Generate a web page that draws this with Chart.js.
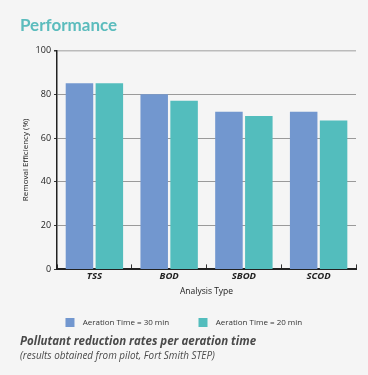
<!DOCTYPE html>
<html>
<head>
<meta charset="utf-8">
<script src="https://cdn.jsdelivr.net/npm/chart.js@4"></script>
<style>
  html,body{margin:0;padding:0;background:#f5f5f5;}
  #wrap{position:relative;width:368px;height:375px;overflow:hidden;}
  canvas{position:absolute;left:0;top:0;}
  .cap{position:absolute;left:20px;font-family:"Open Sans",sans-serif;color:#4a4a4a;white-space:nowrap;}
  #cap1{top:333px;font-size:11.5px;font-weight:700;font-style:italic;}
  #cap2{top:348px;font-size:9.9px;font-style:italic;}
</style>
</head>
<body>
<div id="wrap">
  <canvas id="c" width="368" height="375"></canvas>
  <div class="cap" id="cap1">Pollutant reduction rates per aeration time</div>
  <div class="cap" id="cap2">(results obtained from pilot, Fort Smith STEP)</div>
</div>
<script>
const categories = ["TSS", "BOD", "SBOD", "SCOD"];
const series30 = [85, 80, 72, 72];
const series20 = [85, 77, 70, 68];
const seriesNames = ["Aeration Time = 30 min", "Aeration Time = 20 min"];
const yTicks = [0, 20, 40, 60, 80, 100];

const FONT = '"Open Sans", sans-serif';

new Chart(document.getElementById('c'), {
  type: 'bar',
  data: {
    labels: categories,
    datasets: [
      { label: seriesNames[0], data: series30, backgroundColor: '#7297cf', borderWidth: 0, barPercentage: 0.92, categoryPercentage: 0.8 },
      { label: seriesNames[1], data: series20, backgroundColor: '#53bdbd', borderWidth: 0, barPercentage: 0.92, categoryPercentage: 0.8 }
    ]
  },
  options: {
    responsive: false,
    animation: false,
    devicePixelRatio: 1,
    layout: { padding: { left: 20, right: 12, top: 0, bottom: 38 } },
    plugins: {
      title: {
        display: true, text: 'Performance', align: 'start', color: '#5bbcbd',
        font: { family: 'Lato, "Open Sans", sans-serif', size: 17, weight: 'bold' },
        padding: { top: 15, bottom: 15 }
      },
      legend: {
        position: 'bottom',
        labels: {
          font: { family: FONT, size: 8 }, color: '#333',
          boxWidth: 9, boxHeight: 9, padding: 21,
          generateLabels: (chart) => Chart.defaults.plugins.legend.labels.generateLabels(chart).map(l => Object.assign(l, { text: '  ' + l.text + '    ' }))
        }
      },
      tooltip: { enabled: false }
    },
    scales: {
      x: {
        grid: { display: true, drawOnChartArea: false, offset: true, color: '#333', tickLength: -5, lineWidth: 1 },
        border: { display: true, color: '#222', width: 2 },
        ticks: { color: '#222', padding: 6, font: { family: FONT, size: 9.5, weight: 'bold', style: 'italic' } },
        title: { display: true, text: 'Analysis Type', color: '#222', font: { family: FONT, size: 8.5 }, padding: { top: -1, bottom: 0 } }
      },
      y: {
        min: 0, max: 100,
        afterBuildTicks: (s) => { s.ticks = yTicks.map(v => ({ value: v })); },
        grid: { color: (ctx) => (ctx.tick && ctx.tick.value === 100) ? '#bbbbbb' : '#9a9a9a', lineWidth: (ctx) => (ctx.tick && ctx.tick.value === 100) ? 1.5 : 1, tickColor: '#333', tickLength: 3 },
        border: { display: true, color: '#222', width: 1.5 },
        ticks: { color: '#222', padding: 3, font: { family: FONT, size: 9 } },
        title: { display: true, text: 'Removal Efficiency (%)', color: '#222', font: { family: FONT, size: 8 }, padding: { top: 1, bottom: 2 } }
      }
    }
  }
});
</script>
</body>
</html>
